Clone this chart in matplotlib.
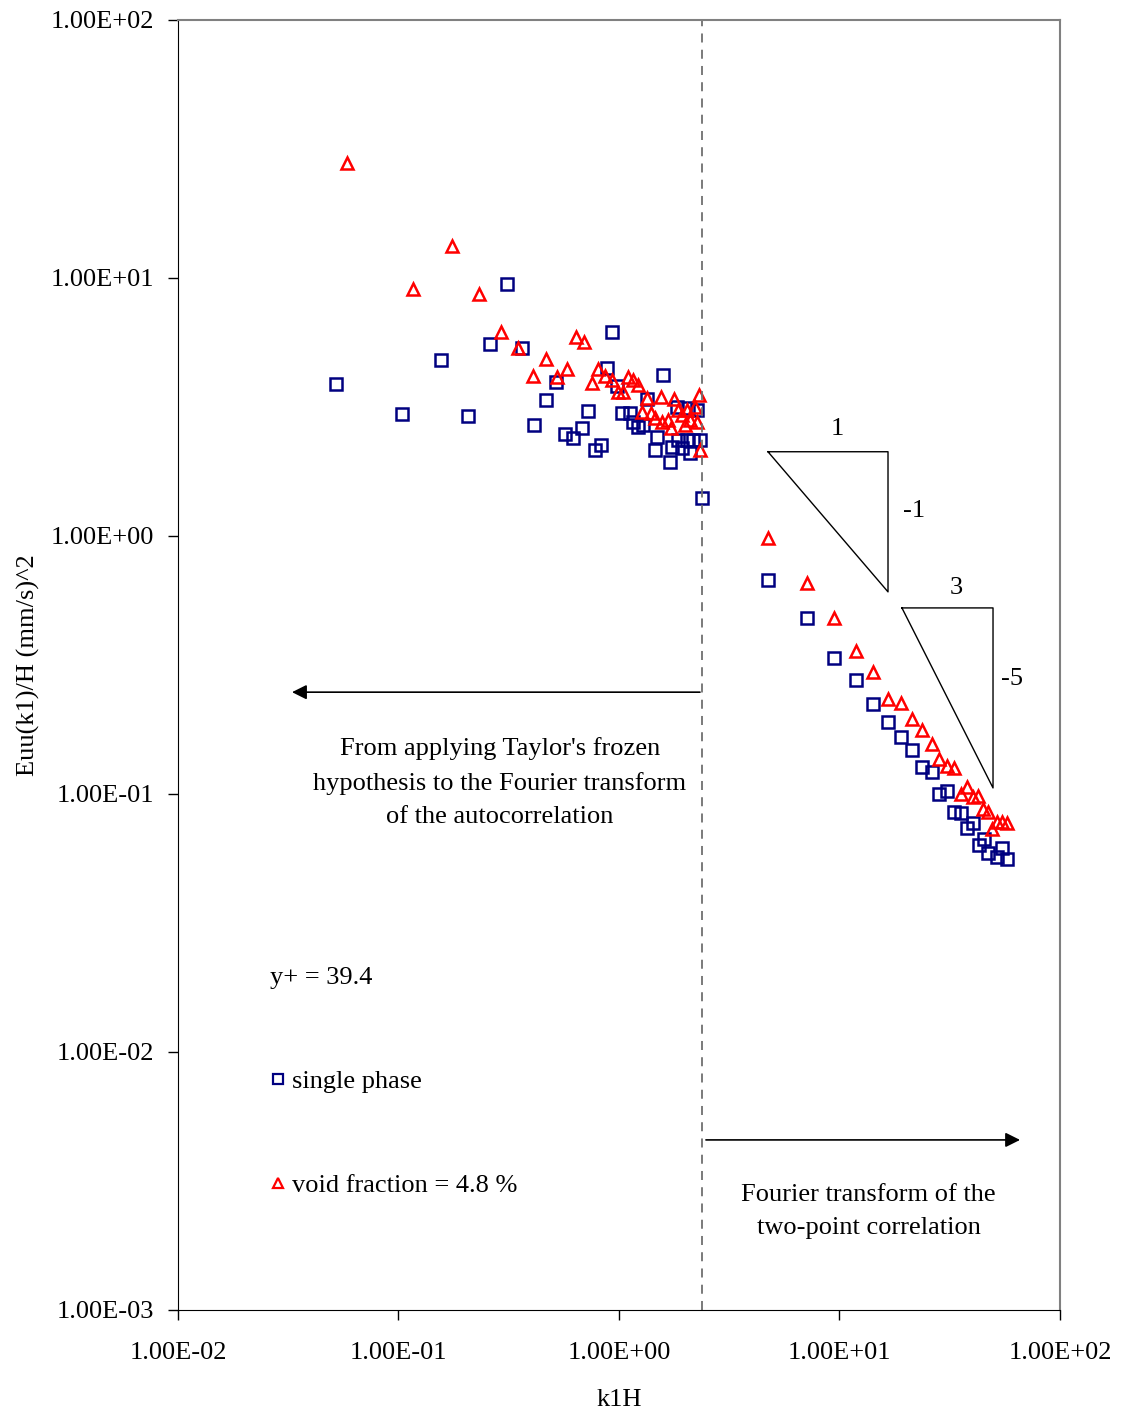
import numpy as np
import matplotlib.pyplot as plt
from matplotlib.lines import Line2D

plt.rcParams.update({'font.family': 'Liberation Serif', 'font.size': 19,
                     'mathtext.fontset': 'stix'})

# single phase, k1H and Euu(k1)/H
k_single = [0.0521, 0.1037, 0.156, 0.2065, 0.260, 0.3105, 0.363, 0.412, 0.467,
            0.518, 0.569, 0.618, 0.679, 0.723, 0.778, 0.828, 0.883, 0.929,
            0.979, 1.032, 1.122, 1.157, 1.219, 1.285, 1.340, 1.457, 1.487,
            1.585, 1.703, 1.739, 1.852, 1.931, 1.832, 2.056, 2.033, 2.099,
            2.166, 2.259, 2.329, 2.377,
            4.74, 7.13, 9.44, 11.9, 14.2, 16.6, 19.0, 21.3, 23.7, 26.3, 28.3,
            30.7, 33.1, 35.6, 37.8, 40.3, 42.9, 45.2, 47.1, 51.8, 54.5, 57.5]
E_single = [3.88, 2.97, 4.81, 2.92, 5.55, 9.48, 5.35, 2.69, 3.37,
            3.95, 2.48, 2.40, 2.62, 3.05, 2.15, 2.25, 4.48, 6.18,
            3.81, 3.00, 3.00, 2.77, 2.64, 2.69, 3.40, 2.15, 2.42,
            4.21, 1.94, 2.21, 2.36, 2.19, 3.16, 3.13, 2.36, 2.10,
            2.36, 3.08, 2.36, 1.40,
            0.675, 0.481, 0.336, 0.277, 0.223, 0.190, 0.166, 0.148, 0.127,
            0.122, 0.100, 0.103, 0.0851, 0.0844, 0.0738, 0.0772, 0.0634,
            0.0670, 0.0590, 0.0570, 0.0618, 0.0560]

# void fraction 4.8 %
k_void = [0.0583, 0.1165, 0.175, 0.232, 0.292, 0.348, 0.407, 0.467, 0.524,
          0.581, 0.638, 0.693, 0.755, 0.804, 0.865, 0.929, 0.989, 1.042,
          1.099, 1.157, 1.219, 1.271, 1.340, 1.396, 1.457, 1.549, 1.567,
          1.667, 1.722, 1.775, 1.852, 1.931, 1.991, 2.033, 2.099, 2.212,
          2.259, 2.305, 2.329,
          4.74, 7.13, 9.44, 11.9, 14.2, 16.6, 19.0, 21.3, 23.7, 26.3, 28.3,
          30.7, 33.1, 35.6, 37.8, 40.3, 42.5, 44.7, 47.1, 49.4, 51.8, 54.5,
          57.5]
E_void = [27.9, 9.06, 13.3, 8.67, 6.18, 5.35, 4.17, 4.85, 4.13,
          4.44, 5.90, 5.65, 3.92, 4.44, 4.17, 4.03, 3.61, 3.61,
          4.13, 4.03, 3.85, 3.03, 3.43, 3.00, 2.87, 3.46, 2.77,
          2.82, 2.62, 3.40, 3.08, 2.94, 2.69, 3.08, 2.82, 3.16,
          2.77, 3.52, 2.15,
          0.98, 0.658, 0.481, 0.358, 0.297, 0.233, 0.225, 0.195, 0.177,
          0.156, 0.137, 0.128, 0.126, 0.100, 0.106, 0.0973, 0.0981,
          0.0875, 0.0851, 0.0731, 0.0778, 0.0778, 0.0772]

# slope triangles (1:-1 and 3:-5)
tri1_k = [4.74, 16.6, 16.6, 4.74]
tri1_E = [2.12, 2.12, 0.607, 2.12]
tri2_k = [19.2, 49.7, 49.7, 19.2]
tri2_E = [0.526, 0.526, 0.1055, 0.526]

k_split = 2.38  # switch between the two methods

ticks_x = [0.01, 0.1, 1, 10, 100]
ticks_x_lab = ['1.00E-02', '1.00E-01', '1.00E+00', '1.00E+01', '1.00E+02']
ticks_y = [0.001, 0.01, 0.1, 1, 10, 100]
ticks_y_lab = ['1.00E-03', '1.00E-02', '1.00E-01', '1.00E+00', '1.00E+01', '1.00E+02']

blue = '#000080'
red = '#FF0000'

fig = plt.figure(figsize=(11.25, 14.14), dpi=100)
ax = fig.add_axes([0.1582, 0.0736, 0.7840, 0.9123])
ax.set_xscale('log')
ax.set_yscale('log')
ax.set_xlim(0.01, 100)
ax.set_ylim(0.001, 100)

ax.plot(k_single, E_single, 's', ms=8.5, mfc='none', mec=blue, mew=1.8, ls='none')
ax.plot(k_void, E_void, '^', ms=9, mfc='none', mec=red, mew=1.8, ls='none')

ax.axvline(k_split, color='#707070', lw=1.3, ls=(0, (5, 4)))
ax.plot(tri1_k, tri1_E, color='black', lw=1)
ax.plot(tri2_k, tri2_E, color='black', lw=1)
ax.text(9.8, 2.35, '1', ha='center', va='bottom')
ax.text(19.5, 1.25, '-1', ha='left', va='center')
ax.text(34.0, 0.57, '3', ha='center', va='bottom')
ax.text(54, 0.28, '-5', ha='left', va='center')

ax.annotate('', xy=(0.0329, 0.248), xytext=(2.33, 0.248),
            arrowprops=dict(arrowstyle='-|>', color='black', lw=1.2,
                            mutation_scale=22, shrinkA=0, shrinkB=0))
ax.annotate('', xy=(65.9, 0.00456), xytext=(2.48, 0.00456),
            arrowprops=dict(arrowstyle='-|>', color='black', lw=1.2,
                            mutation_scale=22, shrinkA=0, shrinkB=0))

ax.text(0.365, 0.409, "From applying Taylor's frozen\nhypothesis to the Fourier transform\nof the autocorrelation",
        transform=ax.transAxes, ha='center', va='center', linespacing=1.65)
ax.text(0.783, 0.0765, "Fourier transform of the\ntwo-point correlation",
        transform=ax.transAxes, ha='center', va='center', linespacing=1.65)

handles = [Line2D([], [], marker='s', ms=7, mfc='none', mec=blue, mew=1.6, ls='none'),
           Line2D([], [], marker='^', ms=7, mfc='none', mec=red, mew=1.6, ls='none')]
leg = ax.legend(handles, ['single phase', 'void fraction = 4.8 %'], title='y+ = 39.4',
                loc='upper left', bbox_to_anchor=(0.104, 0.266), frameon=False,
                labelspacing=3.06, handlelength=0.6, handletextpad=0.25,
                borderpad=0, borderaxespad=0, alignment='left',
                fontsize=19, title_fontsize=19)

ax.set_xticks(ticks_x, ticks_x_lab)
ax.set_yticks(ticks_y, ticks_y_lab)
ax.minorticks_off()
ax.tick_params(direction='out', length=7, width=1, top=False, right=False)
ax.tick_params(axis='x', pad=16)
ax.tick_params(axis='y', pad=10)
for s in ['left', 'bottom']:
    ax.spines[s].set_color('black')
for s in ['top', 'right']:
    ax.spines[s].set_color('#808080')
    ax.spines[s].set_linewidth(1.5)

ax.set_xlabel('k1H', labelpad=18)
ax.set_ylabel('Euu(k1)/H (mm/s)^2', labelpad=8)

fig.savefig('out.png', dpi=100)
